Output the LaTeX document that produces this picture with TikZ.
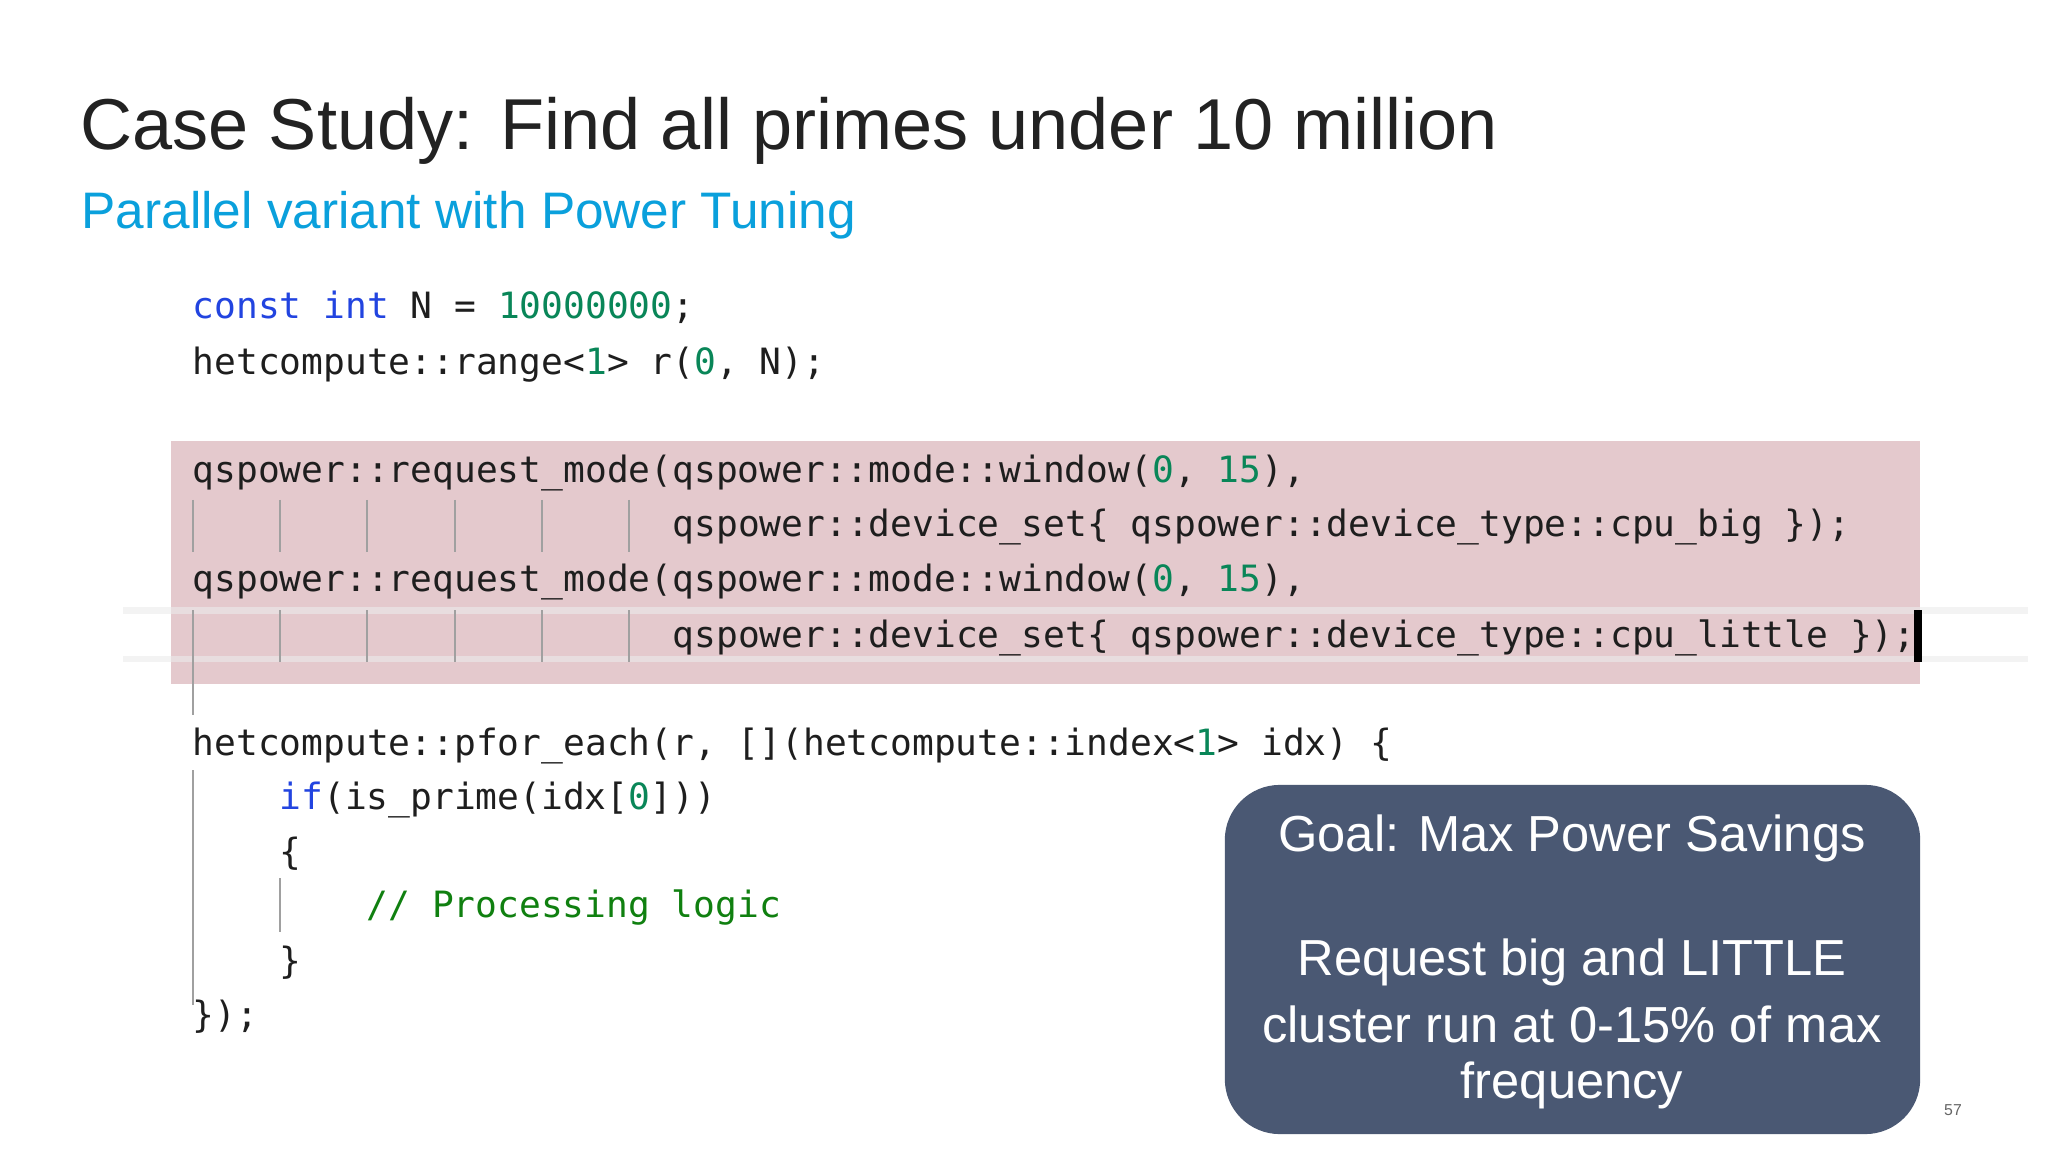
\documentclass[tikz,border=0pt]{standalone}
\usepackage{fontspec}
\setmainfont{Liberation Sans}
\newfontfamily\codef{DejaVu Sans Mono}
\definecolor{titlec}{HTML}{222222}
\definecolor{subc}{HTML}{0AA0DC}
\definecolor{codec}{HTML}{1E1E1E}
\definecolor{kw}{HTML}{2244E0}
\definecolor{num}{HTML}{098658}
\definecolor{cmt}{HTML}{108010}
\definecolor{pinkc}{HTML}{E4C9CD}
\definecolor{boxc}{HTML}{4A5873}
\definecolor{guide}{HTML}{A0A0A0}
\begin{document}
\begin{tikzpicture}[x=0.01cm,y=-0.01cm,
  cl/.style={anchor=base west,inner sep=0,font=\codef\fontsize{10.3}{12}\selectfont,text=codec},
  guideline/.style={draw=guide,line width=0.6pt},
  goal/.style={text=white,font=\fontsize{14.4}{17}\selectfont,inner sep=0}]
\useasboundingbox (0,0) rectangle (2048,1152);
\fill[white] (0,0) rectangle (2048,1152);
\node[anchor=base west,inner sep=0,text=titlec,font=\fontsize{20.5}{25}\selectfont] (title) at (80,150) {Case Study: Find all primes under 10 million};
\node[anchor=base west,inner sep=0,text=subc,font=\fontsize{14.6}{18}\selectfont] (sub) at (81,229) {Parallel variant with Power Tuning};
% highlight
\fill[pinkc] (171,441) rectangle (1920,684);
\fill[black!8,opacity=0.6] (123,607) rectangle (2028,614);
\fill[black!8,opacity=0.6] (123,656) rectangle (2028,662);
% guides
\foreach \c in {0,4,8,12,16,20}{
  \draw[guideline] (193+21.8*\c,500) -- (193+21.8*\c,552);
  \draw[guideline] (193+21.8*\c,610) -- (193+21.8*\c,662);}
\draw[guideline] (193,662) -- (193,715);
\draw[guideline] (193,770) -- (193,1005);
\draw[guideline] (280,878) -- (280,932);
\draw[black,line width=2.5pt] (1918,610) -- (1918,662);
% code
\node[cl] (l1) at (192,319) {\textcolor{kw}{const} \textcolor{kw}{int} N = \textcolor{num}{10000000};};
\node[cl] (l2) at (192,375) {hetcompute::range<\textcolor{num}{1}> r(\textcolor{num}{0}, N);};
\node[cl] (l3) at (192,482) {qspower::request\_mode(qspower::mode::window(\textcolor{num}{0}, \textcolor{num}{15}),};
\node[cl] (l4) at (672,537) {qspower::device\_set\{ qspower::device\_type::cpu\_big \});};
\node[cl] (l5) at (192,592) {qspower::request\_mode(qspower::mode::window(\textcolor{num}{0}, \textcolor{num}{15}),};
\node[cl] (l6) at (672,647) {qspower::device\_set\{ qspower::device\_type::cpu\_little \});};
\node[cl] (l7) at (192,755) {hetcompute::pfor\_each(r, [](hetcompute::index<\textcolor{num}{1}> idx) \{};
\node[cl] (l8) at (279,809) {\textcolor{kw}{if}(is\_prime(idx[\textcolor{num}{0}]))};
\node[cl] (l9) at (279,864) {\{};
\node[cl] (l10) at (366,917) {\textcolor{cmt}{// Processing logic}};
\node[cl] (l11) at (279,973) {\}};
\node[cl] (l12) at (192,1027) {\});};
% goal box
\node[fill=boxc,rounded corners=0.55cm,minimum width=6.95cm,minimum height=3.49cm,inner sep=0] (box) at (1572.5,959.5) {};
\node[goal] (g1) at (1572,838) {Goal: Max Power Savings};
\node[goal] (g2) at (1572,962) {Request big and LITTLE};
\node[goal] (g3) at (1572,1024) {cluster run at 0-15\% of max};
\node[goal] (g4) at (1572,1085) {frequency};
\node[text=black!60,font=\fontsize{4.5}{5}\selectfont,inner sep=0] (pn) at (1953,1110) {57};
\end{tikzpicture}
\end{document}
